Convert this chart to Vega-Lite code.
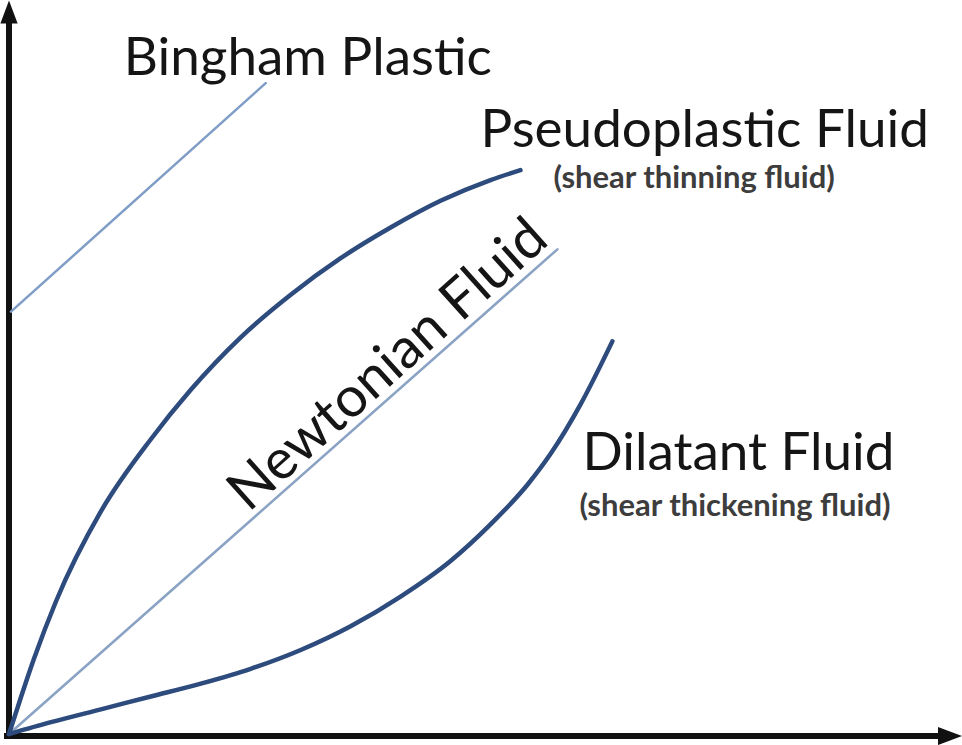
{
  "$schema": "https://vega.github.io/schema/vega-lite/v6.json",
  "autosize": {"type": "fit", "contains": "padding"},
  "width": 962,
  "height": 745,
  "padding": 0,
  "background": "white",
  "config": {"view": {"stroke": null}},
  "datasets": {
    "curves": [
      {"fluid": "Bingham Plastic", "shear_rate": 0.2, "shear_stress": 42.7},
      {"fluid": "Bingham Plastic", "shear_rate": 25.7, "shear_stress": 65.8},
      {"fluid": "Newtonian Fluid", "shear_rate": 0, "shear_stress": 0},
      {"fluid": "Newtonian Fluid", "shear_rate": 54.9, "shear_stress": 49.0},
      {"fluid": "Pseudoplastic Fluid", "shear_rate": 0, "shear_stress": 0},
      {"fluid": "Pseudoplastic Fluid", "shear_rate": 0.9, "shear_stress": 2.8},
      {"fluid": "Pseudoplastic Fluid", "shear_rate": 2.5, "shear_stress": 7.6},
      {"fluid": "Pseudoplastic Fluid", "shear_rate": 4.7, "shear_stress": 13.4},
      {"fluid": "Pseudoplastic Fluid", "shear_rate": 9.2, "shear_stress": 22.5},
      {"fluid": "Pseudoplastic Fluid", "shear_rate": 14.2, "shear_stress": 29.8},
      {"fluid": "Pseudoplastic Fluid", "shear_rate": 18.2, "shear_stress": 34.8},
      {"fluid": "Pseudoplastic Fluid", "shear_rate": 23.2, "shear_stress": 40.1},
      {"fluid": "Pseudoplastic Fluid", "shear_rate": 28.2, "shear_stress": 44.4},
      {"fluid": "Pseudoplastic Fluid", "shear_rate": 33.2, "shear_stress": 48.1},
      {"fluid": "Pseudoplastic Fluid", "shear_rate": 38.2, "shear_stress": 51.2},
      {"fluid": "Pseudoplastic Fluid", "shear_rate": 43.2, "shear_stress": 53.9},
      {"fluid": "Pseudoplastic Fluid", "shear_rate": 48.2, "shear_stress": 56.0},
      {"fluid": "Pseudoplastic Fluid", "shear_rate": 51.2, "shear_stress": 57.0},
      {"fluid": "Dilatant Fluid", "shear_rate": 0, "shear_stress": 0},
      {"fluid": "Dilatant Fluid", "shear_rate": 4.2, "shear_stress": 1.2},
      {"fluid": "Dilatant Fluid", "shear_rate": 9.2, "shear_stress": 2.5},
      {"fluid": "Dilatant Fluid", "shear_rate": 14.2, "shear_stress": 3.8},
      {"fluid": "Dilatant Fluid", "shear_rate": 19.2, "shear_stress": 5.1},
      {"fluid": "Dilatant Fluid", "shear_rate": 24.2, "shear_stress": 6.6},
      {"fluid": "Dilatant Fluid", "shear_rate": 29.2, "shear_stress": 8.5},
      {"fluid": "Dilatant Fluid", "shear_rate": 34.2, "shear_stress": 10.9},
      {"fluid": "Dilatant Fluid", "shear_rate": 39.2, "shear_stress": 13.9},
      {"fluid": "Dilatant Fluid", "shear_rate": 44.2, "shear_stress": 17.5},
      {"fluid": "Dilatant Fluid", "shear_rate": 48.2, "shear_stress": 21.2},
      {"fluid": "Dilatant Fluid", "shear_rate": 51.9, "shear_stress": 25.2},
      {"fluid": "Dilatant Fluid", "shear_rate": 54.2, "shear_stress": 28.3},
      {"fluid": "Dilatant Fluid", "shear_rate": 57.2, "shear_stress": 33.3},
      {"fluid": "Dilatant Fluid", "shear_rate": 60.4, "shear_stress": 39.7}
    ],
    "titles": [
      {"text": "Bingham Plastic", "shear_rate": 11.5, "shear_stress": 66.6},
      {"text": "Pseudoplastic Fluid", "shear_rate": 47.2, "shear_stress": 59.3},
      {"text": "Dilatant Fluid", "shear_rate": 57.4, "shear_stress": 26.7}
    ],
    "notes": [
      {"text": "(shear thinning fluid)", "shear_rate": 54.5, "shear_stress": 55.2},
      {"text": "(shear thickening fluid)", "shear_rate": 57.1, "shear_stress": 22.0}
    ],
    "slanted": [
      {"text": "Newtonian Fluid", "shear_rate": 39.1, "shear_stress": 36.0}
    ],
    "axes": [
      {"name": "stress axis", "x0": 0, "y0": -0.5, "x1": 0, "y1": 72.5},
      {"name": "rate axis", "x0": -0.5, "y0": -0.2, "x1": 93.2, "y1": -0.2}
    ],
    "heads": [
      {"name": "up", "x0": 0, "y0": 73.0},
      {"name": "right", "x0": 94.2, "y0": -0.2}
    ]
  },
  "layer": [
    {
      "data": {"name": "axes"},
      "mark": {"type": "rule", "color": "#111111", "strokeWidth": 6},
      "encoding": {
        "x": {"field": "x0", "type": "quantitative", "scale": {"domain": [-0.8, 95.4], "nice": false, "zero": false}, "axis": null},
        "y": {"field": "y0", "type": "quantitative", "scale": {"domain": [-0.5, 74.0], "nice": false, "zero": false}, "axis": null},
        "x2": {"field": "x1"},
        "y2": {"field": "y1"}
      }
    },
    {
      "data": {"name": "heads"},
      "transform": [{"filter": "datum.name === 'up'"}],
      "mark": {"type": "point", "shape": "M-0.75,1L0.75,1L0,-1Z", "filled": true, "color": "#111111", "size": 529, "opacity": 1},
      "encoding": {
        "x": {"field": "x0", "type": "quantitative"},
        "y": {"field": "y0", "type": "quantitative"}
      }
    },
    {
      "data": {"name": "heads"},
      "transform": [{"filter": "datum.name === 'right'"}],
      "mark": {"type": "point", "shape": "M-1,-0.75L1,0L-1,0.75Z", "filled": true, "color": "#111111", "size": 576, "opacity": 1},
      "encoding": {
        "x": {"field": "x0", "type": "quantitative"},
        "y": {"field": "y0", "type": "quantitative"}
      }
    },
    {
      "data": {"name": "curves"},
      "transform": [{"filter": "datum.fluid === 'Bingham Plastic' || datum.fluid === 'Newtonian Fluid'"}],
      "mark": {"type": "line", "strokeWidth": 2.5, "strokeCap": "round"},
      "encoding": {
        "x": {"field": "shear_rate", "type": "quantitative"},
        "y": {"field": "shear_stress", "type": "quantitative"},
        "detail": {"field": "fluid", "type": "nominal"},
        "color": {"field": "fluid", "type": "nominal", "legend": null,
          "scale": {"domain": ["Bingham Plastic", "Newtonian Fluid"], "range": ["#7f9dc6", "#8aa2c4"]}}
      }
    },
    {
      "data": {"name": "curves"},
      "transform": [{"filter": "datum.fluid === 'Pseudoplastic Fluid' || datum.fluid === 'Dilatant Fluid'"}],
      "mark": {"type": "line", "interpolate": "monotone", "strokeWidth": 4.5, "strokeCap": "round", "color": "#2d4b7d"},
      "encoding": {
        "x": {"field": "shear_rate", "type": "quantitative"},
        "y": {"field": "shear_stress", "type": "quantitative"},
        "detail": {"field": "fluid", "type": "nominal"}
      }
    },
    {
      "data": {"name": "titles"},
      "mark": {"type": "text", "font": "Lato", "fontSize": 53, "align": "left", "baseline": "alphabetic", "color": "#151515"},
      "encoding": {
        "x": {"field": "shear_rate", "type": "quantitative"},
        "y": {"field": "shear_stress", "type": "quantitative"},
        "text": {"field": "text"}
      }
    },
    {
      "data": {"name": "notes"},
      "mark": {"type": "text", "font": "Lato", "fontSize": 31, "fontWeight": "bold", "align": "left", "baseline": "alphabetic", "color": "#3d3d3d"},
      "encoding": {
        "x": {"field": "shear_rate", "type": "quantitative"},
        "y": {"field": "shear_stress", "type": "quantitative"},
        "text": {"field": "text"}
      }
    },
    {
      "data": {"name": "slanted"},
      "mark": {"type": "text", "font": "Lato", "fontSize": 56, "align": "center", "baseline": "alphabetic", "angle": -41.8, "color": "#151515"},
      "encoding": {
        "x": {"field": "shear_rate", "type": "quantitative"},
        "y": {"field": "shear_stress", "type": "quantitative"},
        "text": {"field": "text"}
      }
    }
  ]
}
